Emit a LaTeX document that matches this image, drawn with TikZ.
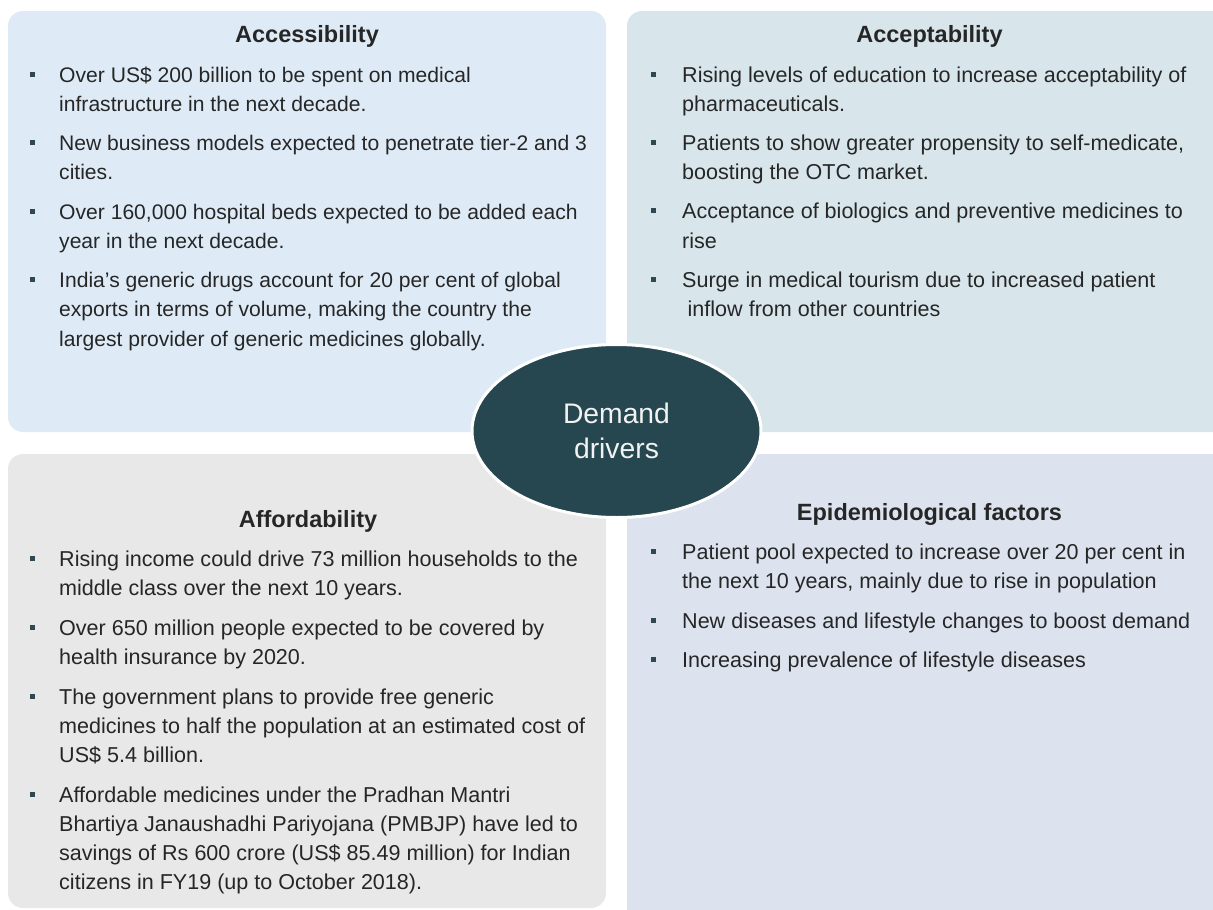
\documentclass[tikz,border=0pt]{standalone}
\usepackage{fontspec}
\setmainfont{Liberation Sans}
\usetikzlibrary{shapes.geometric}
\definecolor{boxtl}{RGB}{222,235,247}
\definecolor{boxtr}{RGB}{216,230,236}
\definecolor{boxbl}{RGB}{232,232,232}
\definecolor{boxbr}{RGB}{220,227,238}
\definecolor{ellc}{RGB}{38,71,79}
\definecolor{txtc}{RGB}{38,38,38}
\definecolor{bulc}{RGB}{47,72,82}
\newcommand\bfnt{\fontsize{21.1}{29}\selectfont}
\newcommand\bfntb{\fontsize{21.55}{29}\selectfont}
\newcommand\tfnt{\fontsize{23.5}{29}\selectfont\bfseries}
\newcommand\firstl[5]{\node[bul] (#1b) at (#2,#4-7.5) {};\node[body] (#1) at (#3,#4) {#5};}
\newcommand\nextl[4]{\node[body] (#1) at (#2,#3) {#4};}
\tikzset{
  body/.style={font=\bfnt, text=txtc, inner sep=0pt, anchor=base west},
  bodyb/.style={body/.append style={font=\bfntb}},
  ttl/.style={font=\tfnt, text=txtc, inner sep=0pt, anchor=base},
  bul/.style={fill=bulc, minimum size=5pt, inner sep=0pt, draw=none},
  panel/.style={rounded corners=15pt}
}
\begin{document}
\begin{tikzpicture}[x=1pt,y=-1pt]
\useasboundingbox (0,0) rectangle (1213,910);
% panels
\fill[boxtl,panel] (8,11) rectangle (606,432);
\fill[boxtr,panel] (627,11) rectangle (1232,432);
\fill[boxbl,panel] (8,454) rectangle (606,908);
\fill[boxbr,panel] (627,454) rectangle (1232,925);
% titles
\node[ttl] (t1) at (307,42) {Accessibility};
\node[ttl] (t2) at (929.5,42) {Acceptability};
\node[ttl] (t3) at (308,527) {Affordability};
\node[ttl] (t4) at (929.5,520) {Epidemiological factors};
% Accessibility
\begin{scope}
\firstl{a1}{32.5}{59}{82}{Over US\$ 200 billion to be spent on medical}
\nextl{a1x}{59}{111}{infrastructure in the next decade.}
\firstl{a2}{32.5}{59}{150}{New business models expected to penetrate tier-2 and 3}
\nextl{a2x}{59}{179}{cities.}
\firstl{a3}{32.5}{59}{219}{Over 160,000 hospital beds expected to be added each}
\nextl{a3x}{59}{248}{year in the next decade.}
\firstl{a4}{32.5}{59}{287}{India’s generic drugs account for 20 per cent of global}
\nextl{a4x}{59}{316}{exports in terms of volume, making the country the}
\nextl{a4y}{59}{346}{largest provider of generic medicines globally.}
\end{scope}
\begin{scope}[bodyb]
% Acceptability
\firstl{b1}{653}{682}{82}{Rising levels of education to increase acceptability of}
\nextl{b1x}{682}{111}{pharmaceuticals.}
\firstl{b2}{653}{682}{150}{Patients to show greater propensity to self-medicate,}
\nextl{b2x}{682}{179}{boosting the OTC market.}
\firstl{b3}{653}{682}{218}{Acceptance of biologics and preventive medicines to}
\nextl{b3x}{682}{248}{rise}
\firstl{b4}{653}{682}{287}{Surge in medical tourism due to increased patient}
\nextl{b4x}{687.5}{316}{inflow from other countries}
% Affordability
\firstl{c1}{32.5}{59}{566}{Rising income could drive 73 million households to the}
\nextl{c1x}{59}{595}{middle class over the next 10 years.}
\firstl{c2}{32.5}{59}{635}{Over 650 million people expected to be covered by}
\nextl{c2x}{59}{664}{health insurance by 2020.}
\firstl{c3}{32.5}{59}{704}{The government plans to provide free generic}
\nextl{c3x}{59}{733}{medicines to half the population at an estimated cost of}
\nextl{c3y}{59}{762}{US\$ 5.4 billion.}
\firstl{c4}{32.5}{59}{802}{Affordable medicines under the Pradhan Mantri}
\nextl{c4x}{59}{831}{Bhartiya Janaushadhi Pariyojana (PMBJP) have led to}
\nextl{c4y}{59}{860}{savings of Rs 600 crore (US\$ 85.49 million) for Indian}
\nextl{c4z}{59}{889}{citizens in FY19 (up to October 2018).}
% Epidemiological factors
\firstl{d1}{653}{682}{559}{Patient pool expected to increase over 20 per cent in}
\nextl{d1x}{682}{588}{the next 10 years, mainly due to rise in population}
\firstl{d2}{653}{682}{628}{New diseases and lifestyle changes to boost demand}
\firstl{d3}{653}{682}{667}{Increasing prevalence of lifestyle diseases}
\end{scope}
% centre
\node[ellipse, fill=ellc, draw=white, line width=3pt, minimum width=289pt, minimum height=173pt, inner sep=0pt,
      text=white!95!black, font=\fontsize{28.3}{35}\selectfont, align=center] (dd) at (616.5,431) {Demand\\drivers};
\end{tikzpicture}
\end{document}
